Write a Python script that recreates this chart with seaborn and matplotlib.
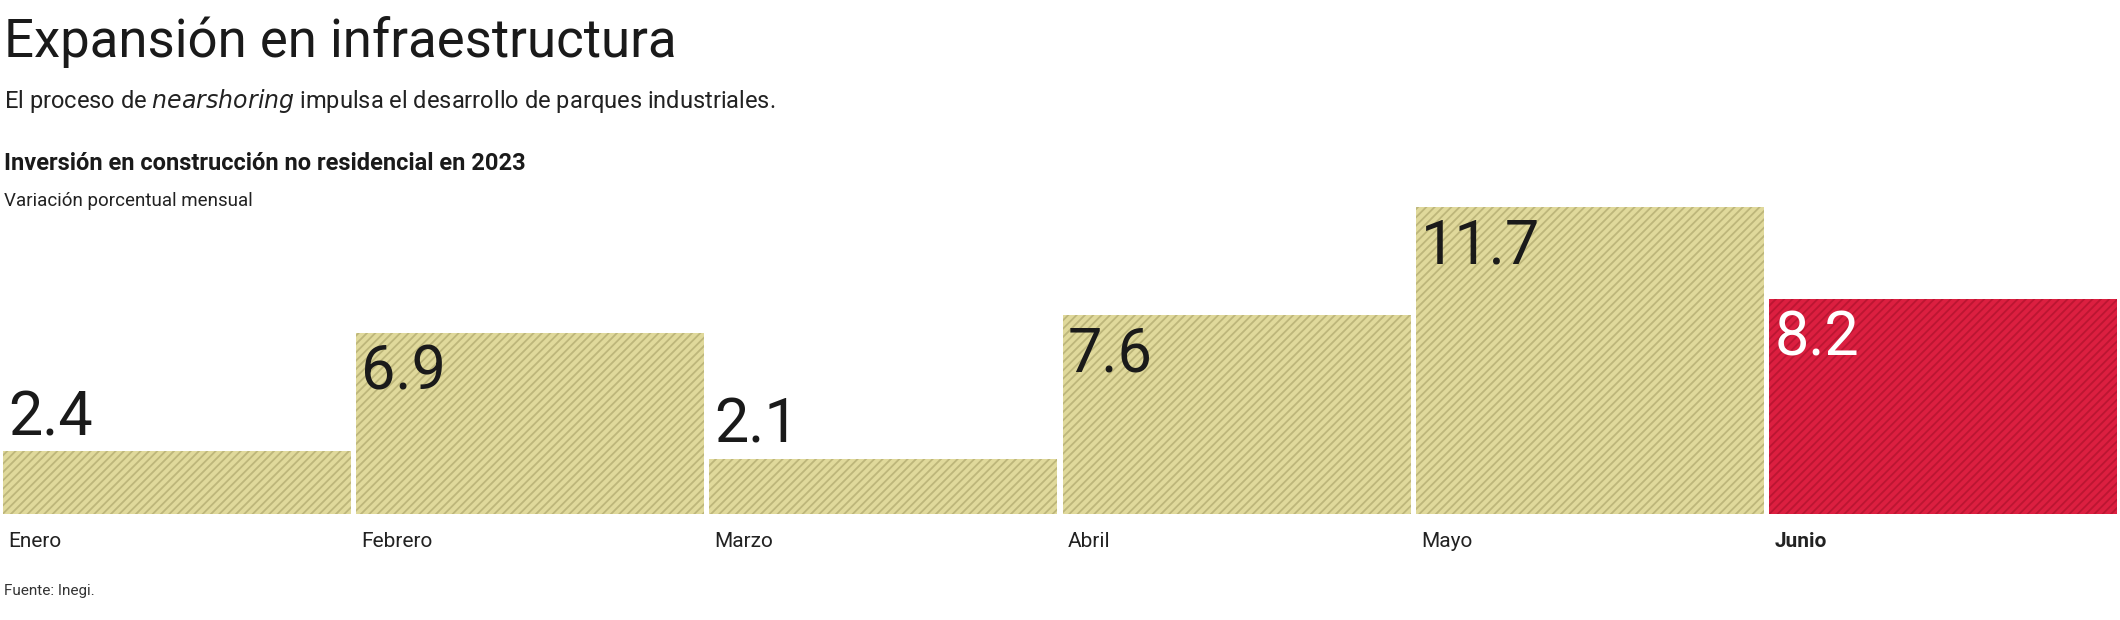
import matplotlib
matplotlib.use("Agg")
import matplotlib.pyplot as plt
import seaborn as sns
import pandas as pd

months = ["Enero", "Febrero", "Marzo", "Abril", "Mayo", "Junio"]
values = [2.4, 6.9, 2.1, 7.6, 11.7, 8.2]
labels = ["2.4", "6.9", "2.1", "7.6", "11.7", "8.2"]

sns.set_theme(style="white")
plt.rcParams['font.family'] = ['Roboto', 'DejaVu Sans']
plt.rcParams['hatch.linewidth'] = 1.3

fig = plt.figure(figsize=(21.2, 6.2), dpi=100)
ax = fig.add_axes([0, 1 - 514/620, 1, (514-207)/620])
df = pd.DataFrame({"m": months, "v": values})
colors = ["#e0d99b"] * 5 + ["#dc1f40"]
sns.barplot(data=df, x="m", y="v", hue="m", palette=colors, legend=False,
            width=0.985, ax=ax, saturation=1)
hatch_cols = ["#bdb67a"] * 5 + ["#bb1632"]
for p, hc in zip(ax.patches, hatch_cols):
    p.set_hatch("////")
    p.set_edgecolor(hc)
    p.set_linewidth(0)
ax.set_xlim(-0.5, 5.5)
ax.set_ylim(0, 11.7)
ax.axis("off")
for i, (v, lab) in enumerate(zip(values, labels)):
    x = i - 0.49 + 0.012
    if v < 4:
        ax.text(x, v + 0.15, lab, ha="left", va="bottom", fontsize=44,
                color="#1a1a1a")
    else:
        ax.text(x, v - 0.4, lab, ha="left", va="top", fontsize=44,
                color="white" if i == 5 else "#1a1a1a")
    ax.text(x, -0.7, months[i], ha="left", va="top", fontsize=15,
            fontweight="bold" if i == 5 else "normal", color="#222222")

fig.text(0.002, 0.975, "Expansión en infraestructura", fontsize=38,
         va="top", color="#1a1a1a")
fig.text(0.002, 0.86, "El proceso de $\\it{nearshoring}$ impulsa el desarrollo de parques industriales.",
         fontsize=17, va="top", color="#222222")
fig.text(0.002, 0.755, "Inversión en construcción no residencial en 2023", fontsize=17,
         fontweight="bold", va="top", color="#1a1a1a")
fig.text(0.002, 0.69, "Variación porcentual mensual", fontsize=13.5, va="top", color="#222222")
fig.text(0.002, 0.035, "Fuente: Inegi.", fontsize=11, va="bottom", color="#333333")
fig.savefig("out.png", dpi=100)
